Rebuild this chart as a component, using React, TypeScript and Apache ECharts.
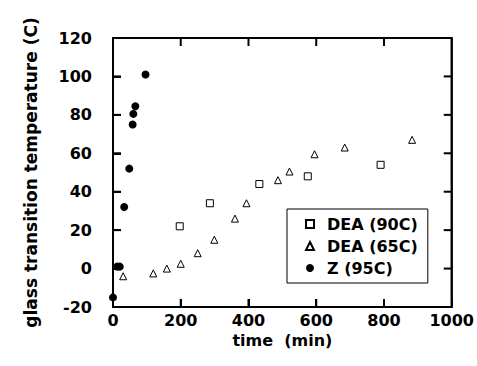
import React, { useEffect, useRef } from "react";
import * as echarts from "echarts";

const dea90: [number, number][] = [
  [197, 22], [286, 34], [432, 44], [575, 48], [790, 54],
];
const dea65: [number, number][] = [
  [30, -4], [119, -2.5], [159, 0], [200, 2.5], [250, 8], [299, 15], [360, 26],
  [394, 34], [487, 46], [521, 50.5], [595, 59.5], [684, 63], [883, 67],
];
const z95: [number, number][] = [
  [0, -15], [12, 1], [20, 1], [33, 32], [48, 52], [58, 75], [60, 80.5], [66, 84.5], [96, 101],
];
const xTickValues = [0, 200, 400, 600, 800, 1000];
const yTickValues = [-20, 0, 20, 40, 60, 80, 100, 120];

const FONT = "DejaVu Sans";

export default function App() {
  const ref = useRef<HTMLDivElement>(null);
  useEffect(() => {
    if (!ref.current) return;
    const chart = echarts.init(ref.current, null, { renderer: "svg" });
    const label = () => ({ color: "#000", fontFamily: FONT, fontWeight: "bold" as const, fontSize: 16 });
    const fmt = (v: number) => String(v);
    const xMin = xTickValues[0];
    const xMax = xTickValues[xTickValues.length - 1];
    const yMin = yTickValues[0];
    const yMax = yTickValues[yTickValues.length - 1];
    chart.setOption({
      animation: false,
      grid: { left: 113, right: 25, top: 38, bottom: 59, show: true, borderColor: "#000000", borderWidth: 2 },
      legend: {
        orient: "vertical",
        left: 287,
        top: 209,
        borderColor: "#000",
        borderWidth: 1,
        borderRadius: 0,
        padding: [7, 10, 7, 18],
        itemWidth: 8,
        itemHeight: 8,
        itemGap: 6,
        textStyle: { ...label(), lineHeight: 16, padding: [0, 0, 0, 8] },
        data: ["DEA (90C)", "DEA (65C)", "Z (95C)"],
      },
      xAxis: {
        type: "value",
        position: "bottom",
        min: xMin,
        max: xMax,
        interval: xTickValues[1] - xTickValues[0],
        name: "time  (min)",
        nameLocation: "middle",
        nameGap: 22,
        nameTextStyle: label(),
        axisLine: { show: true, onZero: false, lineStyle: { color: "#000000", width: 2 } },
        axisTick: { show: true, inside: true, length: 8, lineStyle: { color: "#000000", width: 2 } },
        axisLabel: { ...label(), margin: 5, formatter: fmt },
        splitLine: { show: false },
      },
      yAxis: {
        type: "value",
        position: "left",
        min: yMin,
        max: yMax,
        interval: yTickValues[1] - yTickValues[0],
        name: "glass transition temperature (C)",
        nameLocation: "middle",
        nameGap: 74,
        nameTextStyle: { ...label(), fontSize: 17 },
        axisLine: { show: true, onZero: false, lineStyle: { color: "#000000", width: 2 } },
        axisTick: { show: true, inside: true, length: 8, lineStyle: { color: "#000000", width: 2 } },
        axisLabel: { ...label(), margin: 21, formatter: fmt },
        splitLine: { show: false },
      },
      series: [
        {
          name: "DEA (90C)",
          type: "scatter",
          symbol: "rect",
          symbolSize: 7,
          itemStyle: { color: "#ffffff", borderColor: "#000", borderWidth: 1, opacity: 1 },
          data: dea90,
        },
        {
          name: "DEA (65C)",
          type: "scatter",
          symbol: "triangle",
          symbolSize: 7,
          itemStyle: { color: "#ffffff", borderColor: "#000", borderWidth: 1, opacity: 1 },
          data: dea65,
        },
        {
          name: "Z (95C)",
          type: "scatter",
          symbol: "circle",
          symbolSize: 8,
          itemStyle: { color: "#000", opacity: 1 },
          data: z95,
        },
      ],
    });

    const p = (x: number, y: number) => chart.convertToPixel({ gridIndex: 0 }, [x, y]) as number[];
    const [left, bottom] = p(xMin, yMin);
    const [right, top] = p(xMax, yMax);
    const T = 8;
    const mk = (x1: number, y1: number, x2: number, y2: number) => ({
      type: "line",
      shape: { x1, y1, x2, y2 },
      style: { stroke: "#000000", lineWidth: 2 },
      z: 10,
    });
    const elements: any[] = [mk(left, top, right, top), mk(right, top, right, bottom)];
    xTickValues.slice(1, -1).forEach((v) => {
      const [px] = p(v, yMin);
      elements.push(mk(px, bottom, px, bottom - T));
      elements.push(mk(px, top, px, top + T));
    });
    yTickValues.slice(1, -1).forEach((v) => {
      const [, py] = p(xMin, v);
      elements.push(mk(left, py, left + T, py));
      elements.push(mk(right, py, right - T, py));
    });
    chart.setOption({ graphic: { elements } });

    return () => chart.dispose();
  }, []);
  return <div ref={ref} style={{ width: 477, height: 366, position: "absolute", left: 0, top: 0, background: "#fff" }} />;
}
